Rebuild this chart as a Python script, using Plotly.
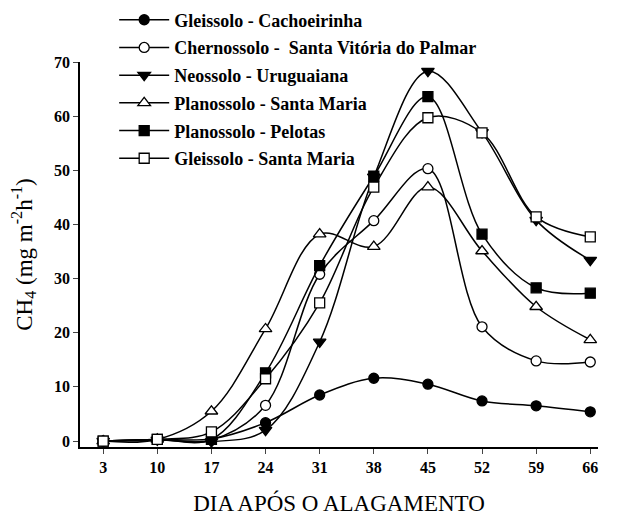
import plotly.graph_objects as go

days = [3, 10, 17, 24, 31, 38, 45, 52, 59, 66]

gleissolo_cachoeirinha = [0.0, 0.3, 0.4, 3.4, 8.5, 11.6, 10.5, 7.4, 6.5, 5.4]
chernossolo_svp = [0.0, 0.3, 0.2, 6.6, 30.8, 40.7, 50.3, 21.1, 14.8, 14.6]
neossolo_uruguaiana = [0.0, 0.2, -0.1, 2.0, 18.3, 48.8, 68.3, 57.0, 40.8, 33.4]
planossolo_sm = [0.0, 0.3, 5.5, 20.7, 38.2, 35.9, 46.9, 35.1, 24.8, 18.7]
planossolo_pelotas = [0.0, 0.3, 0.3, 12.6, 32.4, 48.9, 63.6, 38.2, 28.3, 27.3]
gleissolo_sm = [0.0, 0.3, 1.7, 11.5, 25.5, 46.9, 59.7, 56.9, 41.4, 37.7]

series_names = [
    "Gleissolo - Cachoeirinha",
    "Chernossolo -  Santa Vitória do Palmar",
    "Neossolo - Uruguaiana",
    "Planossolo - Santa Maria",
    "Planossolo - Pelotas",
    "Gleissolo - Santa Maria",
]
series_values = [gleissolo_cachoeirinha, chernossolo_svp, neossolo_uruguaiana,
                 planossolo_sm, planossolo_pelotas, gleissolo_sm]
series_symbols = ["circle", "circle-open", "triangle-down", "triangle-up-open", "square", "square-open"]

y_ticks = [0, 10, 20, 30, 40, 50, 60, 70]

fig = go.Figure()
for i, (name, vals, sym) in enumerate(zip(series_names, series_values, series_symbols)):
    filled = not sym.endswith("open")
    base = sym.replace("-open", "")
    fig.add_trace(go.Scatter(
        x=days, y=vals, name=name, mode="lines+markers",
        legendgroup=f"g{i}",
        line=dict(color="black", width=1.5, shape="spline", smoothing=1.0),
        marker=dict(symbol=base, size=10 if "triangle" not in base else 11,
                    color="black" if filled else "white",
                    line=dict(color="black", width=1.3)),
    ))

font_family = "Liberation Serif"
fig.update_layout(
    width=609, height=508,
    margin=dict(l=72, r=19, t=54, b=69, autoexpand=False),
    paper_bgcolor="white", plot_bgcolor="white",
    font=dict(family=font_family, color="black"),
    showlegend=True,
    legend=dict(x=0.066, y=1.157, xanchor="left", yanchor="top",
                bgcolor="rgba(0,0,0,0)", tracegroupgap=1.3,
                font=dict(size=18, family=font_family, weight=600),
                itemwidth=50),
    xaxis=dict(range=[0, 67], tickvals=days, ticks="outside", ticklen=5, tickwidth=1.3,
               showline=True, linecolor="black", linewidth=1.5, showgrid=False, zeroline=False,
               tickfont=dict(size=16, family=font_family, weight=600),
               title=dict(text="DIA APÓS O ALAGAMENTO", font=dict(size=23, family=font_family), standoff=20)),
    yaxis=dict(range=[-1.1, 70], tickvals=y_ticks, ticks="outside", ticklen=5, tickwidth=1.3,
               showline=True, linecolor="black", linewidth=1.5, showgrid=False, zeroline=False,
               tickfont=dict(size=16, family=font_family, weight=600),
               title=dict(text="CH<sub>4</sub> (mg m<sup>-2</sup>h<sup>-1</sup>)", font=dict(size=23, family=font_family), standoff=21)),
)
fig.write_html("out.html")
